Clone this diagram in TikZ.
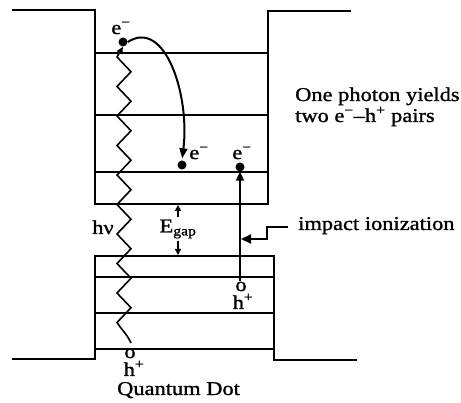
\documentclass[tikz,border=0pt]{standalone}
\usepackage{fontspec}
\setmainfont{Liberation Serif}[FakeStretch=1.15,FakeBold=1.2]
\usetikzlibrary{arrows.meta}
\begin{document}
\begin{tikzpicture}[x=1pt,y=-1pt,
  font=\fontsize{19.5}{17}\selectfont,
  wall/.style={line width=1.7pt,line join=miter},
  level/.style={line width=1.3pt},
  zig/.style={line width=1.6pt,line join=miter},
  dotnode/.style={circle,fill=black,minimum size=9pt,inner sep=0pt},
  lbl/.style={inner sep=0pt},
  bigarr/.style={line width=2pt,-{Triangle[length=10pt,width=9pt]}},
  smallarr/.style={line width=1.4pt,-{Triangle[length=6pt,width=6pt]}}]
\useasboundingbox (0,0) rectangle (461,403);
% conduction band well
\draw[wall] (12,10) -- (95,10) -- (95,204) -- (268,204) -- (268,11) -- (351,11);
\draw[level] (95,53) -- (268,53);
\draw[level] (95,115) -- (268,115);
\draw[level] (95,172) -- (268,172);
% valence band well
\draw[wall] (12,359) -- (95,359) -- (95,256) -- (274,256) -- (274,360) -- (357,360);
\draw[level] (95,277) -- (274,277);
\draw[level] (95,313) -- (274,313);
\draw[level] (95,349) -- (274,349);
% carriers
\node[dotnode] (d1) at (123,42) {};
\node[dotnode] (d2) at (182,165) {};
\node[dotnode] (d3) at (240,167) {};
\node[lbl,anchor=base] (e1) at (121,34) {e\textsuperscript{−}};
\node[lbl,anchor=base] (e2) at (199,159) {e\textsuperscript{−}};
\node[lbl,anchor=base] (e3) at (242,159) {e\textsuperscript{−}};
\coordinate (zs) at (131,343);
\node[lbl,anchor=base] (o1) at (130,358) {o};
\node[lbl,anchor=base] (hb) at (134,376) {h\textsuperscript{+}};
\coordinate (hs) at (240,281);
\node[lbl,anchor=base] (o2) at (241,291) {o};
\node[lbl,anchor=base] (h2) at (243,309) {h\textsuperscript{+}};
% photon zigzag
\draw[zig,-{Triangle[length=7pt,width=6pt]}] (zs) .. controls (127,334) and (121,329) .. (117,322.5)
  -- (131,307.75) -- (117,293) -- (131,278.25) -- (117,263.5) -- (131,248.75)
  -- (117,234) -- (131,219.25) -- (117,204.5) -- (131,189.75) -- (117,175)
  -- (131,160.25) -- (117,145.5) -- (131,130.75) -- (117,116) -- (131,101.25)
  -- (117,86.5) -- (131,71.75) -- (117,57) -- (d1.south);
\node[lbl,anchor=base] (hv) at (103,234) {hν};
% relaxation arrow
\draw[line width=2pt,-{Triangle[length=10pt,width=8pt]},shorten >=2pt]
  (d1.east) .. controls (165,18) and (190,95) .. (d2.north);
% impact ionization arrow
\draw[line width=2pt,-{Triangle[length=9pt,width=8pt]}] (hs) -- (d3.south);
\node[lbl,anchor=base west] (imp) at (298,230) {impact ionization};
\coordinate (vl) at (241,239);
\draw[bigarr] ([xshift=-10pt,yshift=-1pt]imp.west) -| (267,239) -- (vl);
% band gap
\node[lbl,inner sep=2pt] (eg) at (178,229) {E\textsubscript{gap}};
\draw[smallarr] (eg.north) -- (178,205);
\draw[smallarr] (eg.south) -- (178,255);
% texts
\node[lbl,anchor=base west] (t1) at (295,101) {One photon yields};
\node[lbl,anchor=base west] (t2) at (295,122) {two e\textsuperscript{−}–h\textsuperscript{+} pairs};
\node[lbl,anchor=base west] (qd) at (117,395) {Quantum Dot};
\end{tikzpicture}
\end{document}
